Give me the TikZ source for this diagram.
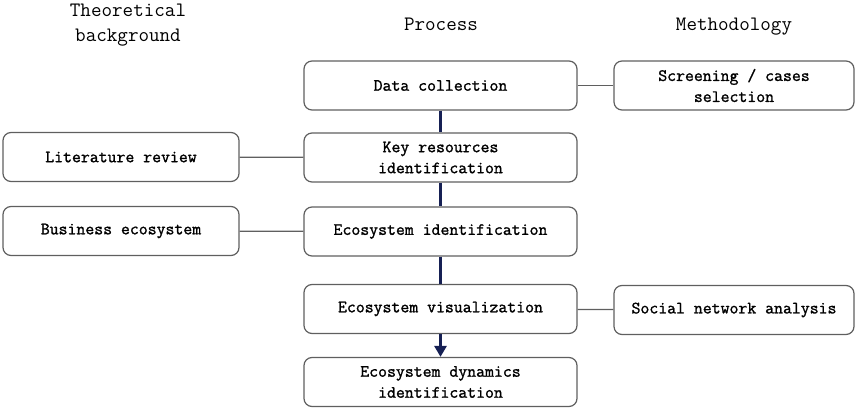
\documentclass[tikz,border=0pt]{standalone}
\usepackage{fontspec}
\newfontfamily\boxfont{Latin Modern Mono}[FakeBold=1.3]
\usetikzlibrary{arrows.meta}
\definecolor{navyline}{RGB}{22,32,84}
\definecolor{greyline}{RGB}{95,95,95}

\begin{document}
\begin{tikzpicture}[x=1pt, y=-1pt, >={Triangle[width=12pt,length=11pt]},
    stagebox/.style={
		% The shape:
		rectangle, rounded corners=8pt,
		% The size:
		minimum width=273pt, minimum height=49pt,
		% The border
		line width=1.2pt, draw=greyline,
		% The text
		align=center, font=\boxfont\fontsize{17.3}{21}\selectfont},
    sidebox/.style={stagebox, minimum width=236pt},
    heading/.style={align=center, font=\ttfamily\fontsize{20.5}{25}\selectfont},
    link/.style={line width=1.3pt, draw=greyline},
    flow/.style={line width=3.5pt, draw=navyline}]
    \useasboundingbox (0,0) rectangle (856,411);

    % column headings
    \node [heading] (theory) at (128,25) {Theoretical\\background};
    \node [heading] (process) at (441,24) {Process};
    \node [heading] (method) at (734,27) {Methodology};

    % process column
    \node [stagebox] (collect) at (440.5,85.5) {Data collection};
    \node [stagebox] (keyres) at (440.5,157.5) {Key resources\\identification};
    \node [stagebox] (ecoid) at (440.5,231.5) {Ecosystem identification};
    \node [stagebox] (ecovis) at (440.5,309) {Ecosystem visualization};
    \node [stagebox] (ecodyn) at (440.5,382) {Ecosystem dynamics\\identification};

    % theory column
    \node [sidebox] (litrev) at (121,157) {Literature review};
    \node [sidebox] (busieco) at (121,231) {Business ecosystem};

    % methodology column
    \node [sidebox, minimum width=240pt] (screen) at (734,85.5) {Screening / cases\\selection};
    \node [sidebox, minimum width=240pt] (sna) at (734,310) {Social network analysis};

    \draw [flow] (collect) -- (keyres);
    \draw [flow] (keyres) -- (ecoid);
    \draw [flow] (ecoid) -- (ecovis);
    \draw [flow, ->] (ecovis) -- (ecodyn);

    \draw [link] (litrev) -- (keyres);
    \draw [link] (busieco) -- (ecoid);
    \draw [link] (collect) -- (screen);
    \draw [link] (ecovis) -- (sna);

    \end{tikzpicture}
\end{document}
